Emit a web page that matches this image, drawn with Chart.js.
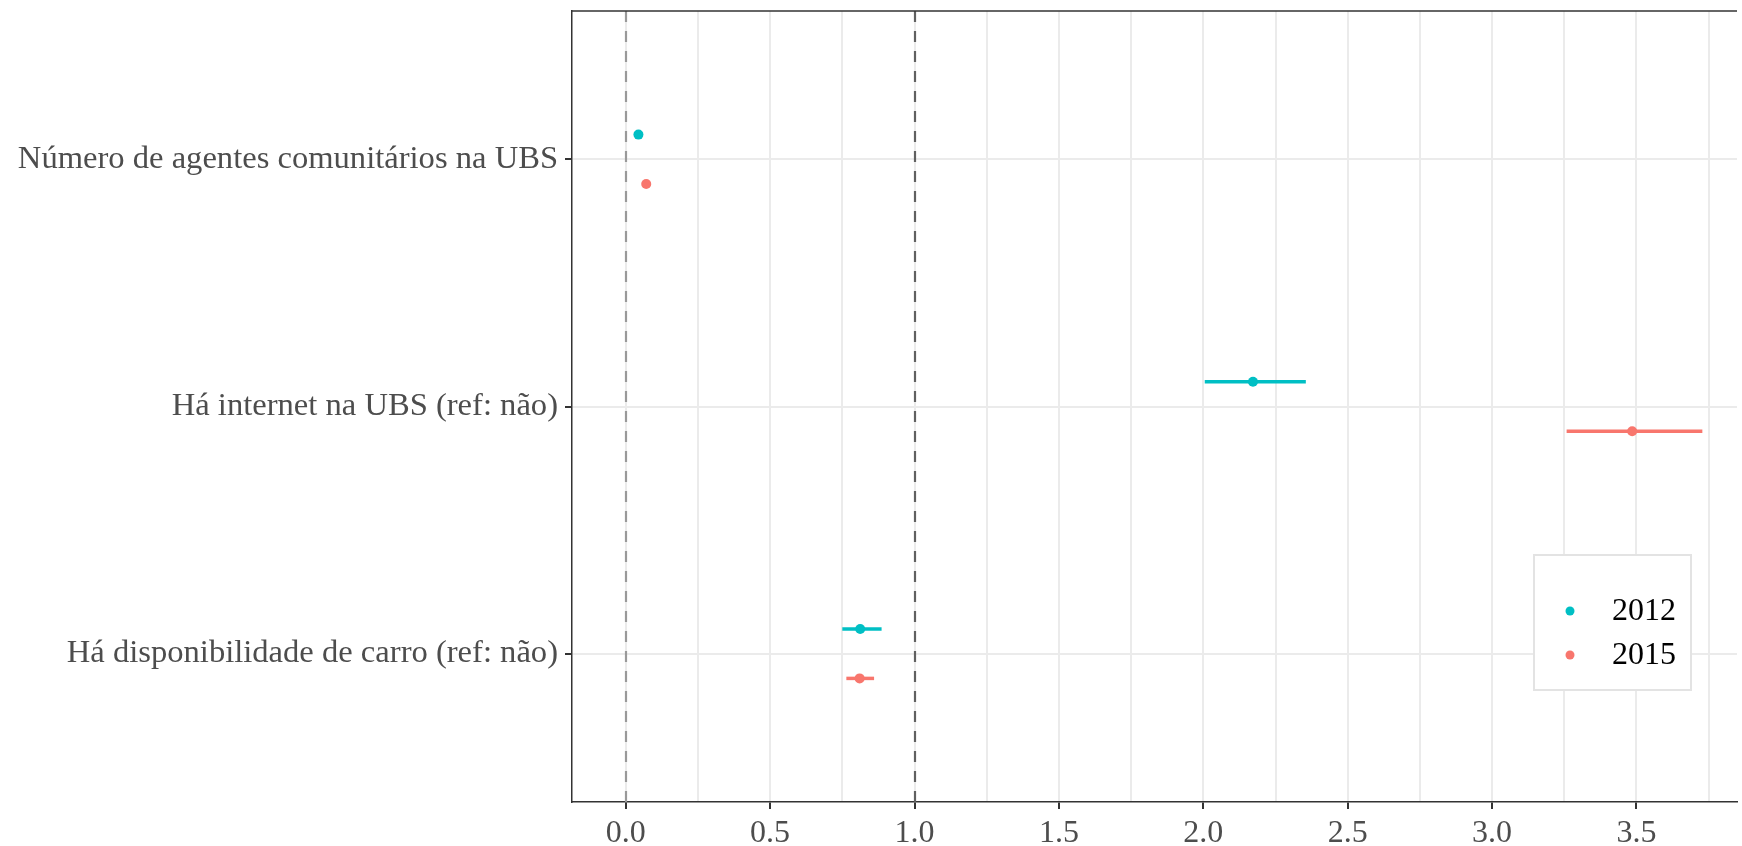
<!DOCTYPE html>
<html>
<head>
<meta charset="utf-8">
<script src="https://cdn.jsdelivr.net/npm/chart.js@4/dist/chart.umd.min.js"></script>
<style>
  body { margin: 0; background: #fff; }
  canvas { display: block; }
</style>
</head>
<body>
<canvas id="chart" width="1742" height="846"></canvas>
<script>
// categorias (de cima para baixo)
const categories = [
    'Número de agentes comunitários na UBS',
    'Há internet na UBS (ref: não)',
    'Há disponibilidade de carro (ref: não)'
];
const seriesLabels = ['2012', '2015'];
const seriesColors = ['#00BFC4', '#F8766D'];

// estimativas e intervalos
const est2012 = [0.044, 2.172, 0.812];
const lo2012 = [0.040, 2.005, 0.750];
const hi2012 = [0.048, 2.355, 0.886];
const est2015 = [0.071, 3.485, 0.810];
const lo2015 = [0.067, 3.258, 0.764];
const hi2015 = [0.075, 3.728, 0.860];

// eixo x
const xTickValues = [0, 0.5, 1, 1.5, 2, 2.5, 3, 3.5];
const xTickLabels = ['0.0', '0.5', '1.0', '1.5', '2.0', '2.5', '3.0', '3.5'];
const xMinorValues = [0.25, 0.75, 1.25, 1.75, 2.25, 2.75, 3.25, 3.75];
const refLines = [0, 1];

const FONT = "'Liberation Serif', 'DejaVu Serif', serif";
const dodge = [-0.1, 0.1];

function points(est, k) {
    return est.map((v, i) => ({ x: v, y: i + dodge[k] }));
}

const extras = {
    id: 'extras',
    beforeDatasetsDraw(chart) {
        const { ctx, chartArea: a, scales: { x, y } } = chart;
        ctx.save();
        // linhas de referencia
        ctx.lineWidth = 2.2;
        ctx.setLineDash([11, 9]);
        refLines.forEach((v, i) => {
            const px = Math.round(x.getPixelForValue(v));
            ctx.strokeStyle = i === 0 ? '#999999' : '#606060';
            ctx.beginPath();
            ctx.moveTo(px, a.top);
            ctx.lineTo(px, a.bottom);
            ctx.stroke();
        });
        ctx.setLineDash([]);
        // barras de erro
        const los = [lo2012, lo2015], his = [hi2012, hi2015];
        ctx.lineWidth = 3.5;
        [0, 1].forEach(k => {
            ctx.strokeStyle = seriesColors[k];
            categories.forEach((c, i) => {
                const py = y.getPixelForValue(i + dodge[k]);
                ctx.beginPath();
                ctx.moveTo(x.getPixelForValue(los[k][i]), py);
                ctx.lineTo(x.getPixelForValue(his[k][i]), py);
                ctx.stroke();
            });
        });
        // borda superior
        ctx.strokeStyle = '#333';
        ctx.lineWidth = 1.5;
        ctx.beginPath();
        ctx.moveTo(a.left, a.top);
        ctx.lineTo(a.right, a.top);
        ctx.stroke();
        ctx.restore();
    },
    afterDraw(chart) {
        const ctx = chart.ctx;
        ctx.save();
        const bx = 1534, by = 555, bw = 157, bh = 135;
        ctx.fillStyle = '#fff';
        ctx.fillRect(bx, by, bw, bh);
        ctx.strokeStyle = '#e3e3e3';
        ctx.lineWidth = 2;
        ctx.strokeRect(bx, by, bw, bh);
        ctx.font = '32px ' + FONT;
        ctx.textBaseline = 'middle';
        chart.data.datasets.forEach((ds, k) => {
            const yy = 611 + k * 44;
            ctx.fillStyle = ds.backgroundColor;
            ctx.beginPath();
            ctx.arc(1570, yy, 4.5, 0, Math.PI * 2);
            ctx.fill();
            ctx.fillStyle = '#000';
            ctx.fillText(ds.label, 1612, yy + 1);
        });
        ctx.restore();
    }
};

new Chart(document.getElementById('chart'), {
    type: 'scatter',
    data: {
        datasets: [
            { label: seriesLabels[0], data: points(est2012, 0), backgroundColor: seriesColors[0], borderColor: seriesColors[0], pointRadius: 5, borderWidth: 0 },
            { label: seriesLabels[1], data: points(est2015, 1), backgroundColor: seriesColors[1], borderColor: seriesColors[1], pointRadius: 5, borderWidth: 0 }
        ]
    },
    options: {
        responsive: false,
        animation: false,
        devicePixelRatio: 1,
        layout: { padding: { top: 11, left: 0, right: 0, bottom: 0 } },
        plugins: {
            legend: { display: false },
            tooltip: { enabled: false }
        },
        scales: {
            x: {
                type: 'linear',
                min: -0.186,
                max: 3.848,
                afterBuildTicks: axis => {
                    axis.ticks = xTickValues.concat(xMinorValues).sort((a, b) => a - b).map(v => ({ value: v }));
                },
                afterFit: scale => { scale.height = 44; scale.paddingRight = 0; scale.paddingLeft = 0; },
                ticks: {
                    autoSkip: false,
                    maxRotation: 0,
                    padding: 5,
                    color: '#4d4d4d',
                    font: { family: FONT, size: 32 },
                    callback: v => {
                        const i = xTickValues.indexOf(v);
                        return i >= 0 ? xTickLabels[i] : '';
                    }
                },
                grid: {
                    color: '#ebebeb',
                    lineWidth: 2,
                    tickLength: 7,
                    tickColor: c => (c.tick && xTickValues.indexOf(c.tick.value) >= 0) ? '#333' : 'rgba(0,0,0,0)',
                    tickWidth: 2
                },
                border: { display: true, color: '#333', width: 1.5 }
            },
            y: {
                type: 'linear',
                reverse: true,
                min: -0.6,
                max: 2.6,
                afterBuildTicks: axis => {
                    axis.ticks = categories.map((c, i) => ({ value: i }));
                },
                afterFit: scale => { scale.width = 572; scale.paddingTop = 0; scale.paddingBottom = 0; },
                ticks: {
                    padding: 7,
                    color: '#4d4d4d',
                    font: { family: FONT, size: 32.6 },
                    callback: v => categories[v]
                },
                grid: {
                    color: '#ebebeb',
                    lineWidth: 2,
                    tickLength: 7,
                    tickColor: '#333',
                    tickWidth: 2
                },
                border: { display: true, color: '#333', width: 1.5 }
            }
        }
    },
    plugins: [extras]
});
</script>
</body>
</html>
